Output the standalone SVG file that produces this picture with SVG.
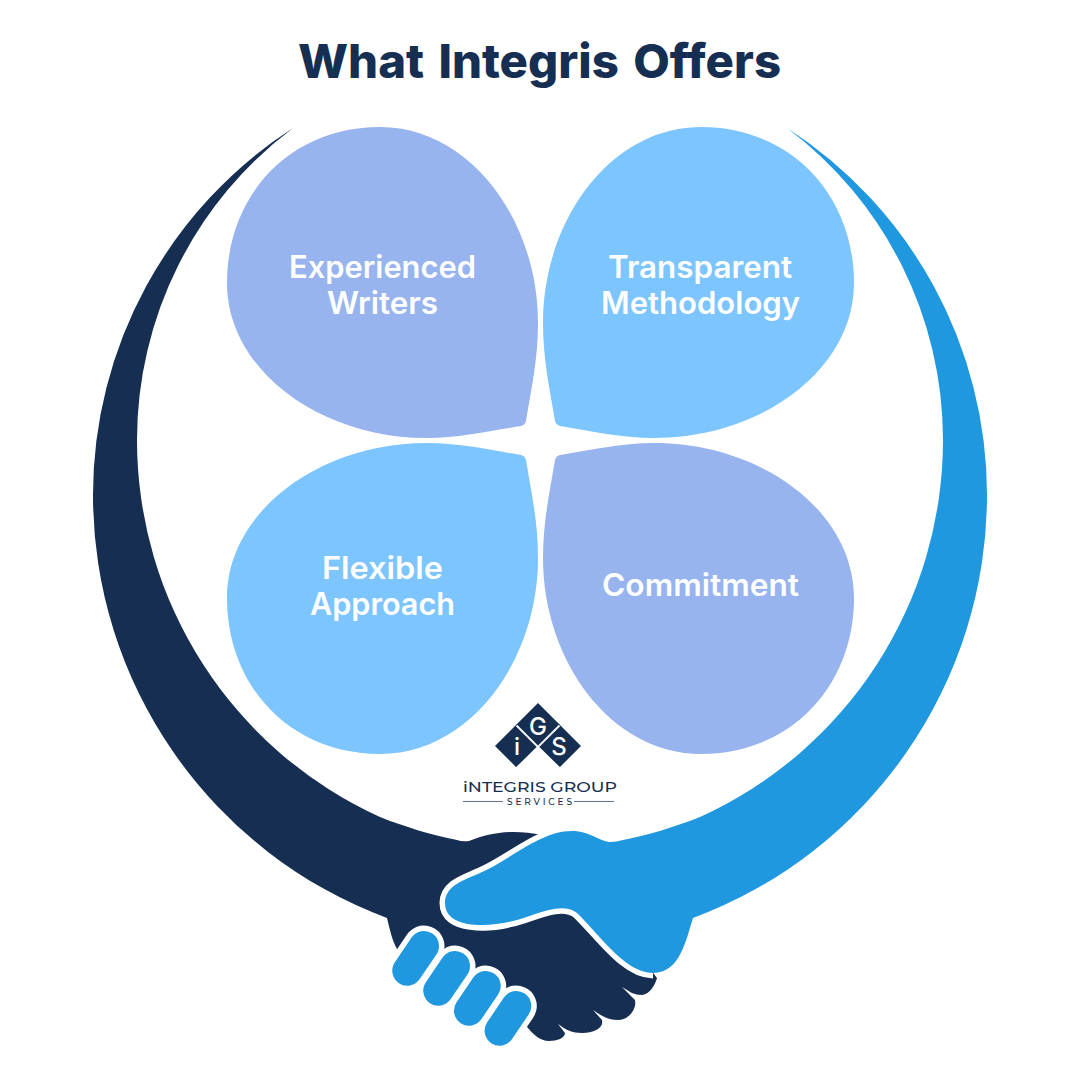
<svg xmlns="http://www.w3.org/2000/svg" width="1080" height="1080" viewBox="0 0 1080 1080">
<style>
.t{font-family:"Inter","Liberation Sans",sans-serif;font-weight:800;fill:#162e52;font-size:47px;word-spacing:4px}
.l{font-family:"Inter","Liberation Sans",sans-serif;font-weight:600;fill:#fff;font-size:31px}
.per{fill:#97b4ef}.sky{fill:#7cc5fe}.navy{fill:#162e52}.blue{fill:#1f98e0}
.fo{stroke:#fff;stroke-width:41;stroke-linecap:round;fill:none}
.fi{stroke:#1f98e0;stroke-width:30;stroke-linecap:round;fill:none}
.lg{font-family:"Montserrat","Inter","Liberation Sans",sans-serif;fill:#162e52;font-weight:500}
.d{font-family:"Inter","Liberation Sans",sans-serif;fill:#fff;font-weight:500;font-size:24px;text-anchor:middle}
</style>
<defs>
<path id="petal" d="M526,421C531,390 538,360 538,323C538,220 470,127 380,127C290,127 227,195 227,283C227,370 320,438 427,438C460,438 490,431 521,426Q525,425 526,421Z"/>
<g id="finger"><path class="fo" d="M424,946L407.300,970.700"/></g>
<g id="fingerb"><path class="fi" d="M424,946L407.300,970.700"/></g>
</defs>
<rect width="1080" height="1080" fill="#fff"/>
<text id="title" class="t" x="298" y="78" textLength="483" lengthAdjust="spacingAndGlyphs">What Integris Offers</text>

<g id="hands">
<path id="navy-arm" class="navy" d="M293,128A437,437 0 0 0 93,495A451,451 0 0 0 387,918C390,930 392,940 397,949L527,1027C533,1034 540,1041 549,1041C557,1041 565,1038 565,1033L558,1024C566,1030 572,1033 582,1033C594,1033 604,1028 602,1020L593,1010C602,1016 608,1020 618,1020C628,1020 637,1010 635,1000L622,987C630,992 634,995 642,995C650,994 655,985 657,978L620,930L542,835C515,829 490,832 469,841Q462,842 457,840C432,835 405,827 380,817A414,414 0 0 1 137,440A390,390 0 0 1 293,128Z"/>
<path id="hand-outline" d="M653,973C625,973 600,935 577,913C560,900 530,918 513,921C490,927 445,930 445,903C445,885 465,880 480,873C510,860 540,831 572,831" fill="none" stroke="#fff" stroke-width="11"/>
<path id="blue-arm" class="blue" d="M787,128A437,437 0 0 1 987,495A451,451 0 0 1 693,918C686,940 680,973 653,973C625,973 600,935 577,913C560,900 530,918 513,921C490,927 445,930 445,903C445,885 465,880 480,873C510,860 540,831 572,831C590,831 600,842 611,842Q616,842 623,840C648,835 675,827 700,817A414,414 0 0 0 943,440A390,390 0 0 0 787,128Z"/>
<use href="#finger"/><use href="#finger" x="31" y="20"/><use href="#finger" x="61.700" y="40"/><use href="#finger" x="92.300" y="60"/>
<use href="#fingerb"/><use href="#fingerb" x="31" y="20"/><use href="#fingerb" x="61.700" y="40"/><use href="#fingerb" x="92.300" y="60"/>
</g>

<g id="node-experienced">
<use href="#petal" class="per"/>
<text class="l" x="289" y="278" textLength="187" lengthAdjust="spacingAndGlyphs">Experienced</text>
<text class="l" x="327" y="314" textLength="111" lengthAdjust="spacingAndGlyphs">Writers</text>
</g>
<g id="node-transparent">
<use href="#petal" class="sky" transform="matrix(-1 0 0 1 1081 0)"/>
<text class="l" x="608" y="278" textLength="184" lengthAdjust="spacingAndGlyphs">Transparent</text>
<text class="l" x="601" y="314" textLength="199" lengthAdjust="spacingAndGlyphs">Methodology</text>
</g>
<g id="node-flexible">
<use href="#petal" class="sky" transform="matrix(1 0 0 -1 0 881)"/>
<text class="l" x="322" y="579" textLength="121" lengthAdjust="spacingAndGlyphs">Flexible</text>
<text class="l" x="310" y="615" textLength="145" lengthAdjust="spacingAndGlyphs">Approach</text>
</g>
<g id="node-commitment">
<use href="#petal" class="per" transform="matrix(-1 0 0 -1 1081 881)"/>
<text class="l" x="602" y="596" textLength="197" lengthAdjust="spacingAndGlyphs">Commitment</text>
</g>

<g id="logo">
<path class="navy" d="M538,703L560,725L538,747L516,725Z"/>
<path class="navy" d="M517,724L539,746L517,768L495,746Z"/>
<path class="navy" d="M559,724L581,746L559,768L537,746Z"/>
<path d="M516.500,725.500L538,747L559.500,725.500M538,747L516.500,768M538,747L559.500,768" fill="none" stroke="#fff" stroke-width="1.800"/>
<text class="d" x="538" y="735">G</text>
<text class="d" x="517" y="755">i</text>
<text class="d" x="559" y="755">S</text>
<text class="lg" x="463" y="792" font-size="15" textLength="154" lengthAdjust="spacingAndGlyphs">iNTEGRIS GROUP</text>
<text class="lg" x="507" y="804.500" font-size="9" textLength="65">SERVICES</text>
<path d="M463,801.500H503M574,801.500H614" stroke="#5f7398" stroke-width="1" fill="none"/>
</g>
</svg>
